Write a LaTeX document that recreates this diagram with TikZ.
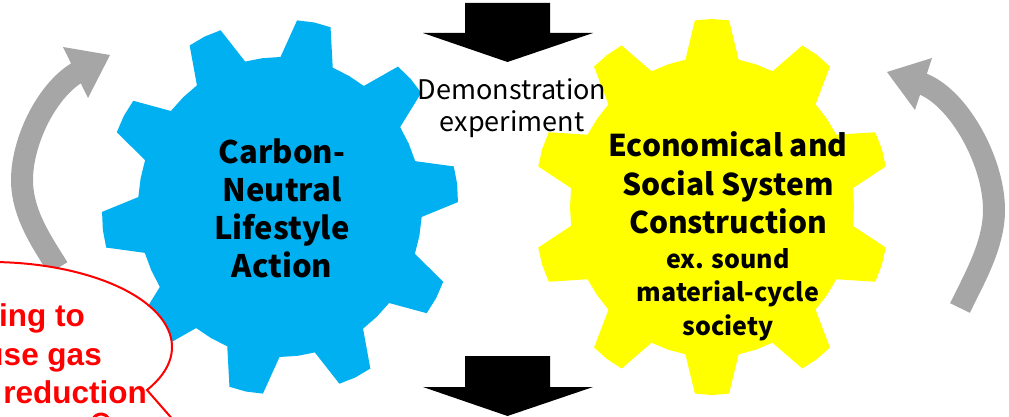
\documentclass[tikz,border=0pt]{standalone}
\usepackage{fontspec}
\setmainfont{Noto Sans CJK JP}
\newfontfamily\redfont{Liberation Sans}
\definecolor{gblue}{HTML}{00B0F0}
\definecolor{gyellow}{HTML}{FFFF00}
\definecolor{ggray}{HTML}{A6A6A6}
\definecolor{gred}{HTML}{FF0000}
\newcommand{\drawgear}[3]{%
  \fill[#1, shift={#2}] ({#3-10.8}:142 and 150)
    \foreach \k in {0,...,9}{
      -- ({#3+36*\k-5.5}:178 and 187.5)
      -- ({#3+36*\k}:178.5 and 188)
      -- ({#3+36*\k+5.5}:178 and 187.5)
      -- ({#3+36*\k+10.8}:142 and 150)
      -- ({#3+36*\k+18}:142 and 150)
      -- ({#3+36*\k+25.2}:142 and 150)
    } -- cycle;}
\tikzset{
  gbig/.style={font=\bfseries\fontsize{31}{37}\selectfont, inner sep=0pt, anchor=base},
  ybig/.style={font=\bfseries\fontsize{30}{36}\selectfont, inner sep=0pt, anchor=base},
  ysmall/.style={font=\bfseries\fontsize{25}{30}\selectfont, inner sep=0pt, anchor=base},
  demo/.style={font=\fontsize{27}{30}\selectfont, inner sep=0pt, anchor=base},
  rtext/.style={font=\redfont\bfseries\fontsize{31.5}{36}\selectfont, text=gred, inner sep=0pt, anchor=base east},
  band/.style={draw=ggray, line width=22pt},
  blockarrow/.style={fill=black}
}
\begin{document}
\begin{tikzpicture}[x=1pt,y=-1pt]
\useasboundingbox (0,0) rectangle (1009,417);
\clip (0,0) rectangle (1009,417);
% gears
\drawgear{gblue}{(280,207)}{-7}
\drawgear{gyellow}{(712,207)}{-90}
% gray circular arrows
\draw[band] (58,268) .. controls (44,245) and (22,215) .. (22,180)
  .. controls (22,140) and (48,88) .. (80,71);
\fill[ggray] (63,47) -- (110,55) -- (88,98) -- cycle;
\draw[band] (960,308) .. controls (974,279) and (994,245) .. (994,210)
  .. controls (994,160) and (957,95) .. (920,83);
\fill[ggray] (932,58) -- (887,72) -- (915,110) -- cycle;
% black block arrows
\fill[blockarrow] (465,3) -- (550,3) -- (550,33) -- (593,33) -- (507.5,62) -- (423,33) -- (465,33) -- cycle;
\fill[blockarrow] (465,356) -- (550,356) -- (550,387) -- (593,387) -- (507.5,416) -- (423,387) -- (465,387) -- cycle;
% gear texts
\node[gbig] (c1) at (282,163) {Carbon-};
\node[gbig] (c2) at (282,201.5) {Neutral};
\node[gbig] (c3) at (282,239.5) {Lifestyle};
\node[gbig] (c4) at (282,277.5) {Action};
\node[ybig] (e1) at (728,156.7) {Economical and};
\node[ybig] (e2) at (728,195) {Social System};
\node[ybig] (e3) at (728,233) {Construction};
\node[ysmall] (e4) at (728,268) {ex. sound};
\node[ysmall] (e5) at (728,301.7) {material-cycle};
\node[ysmall] (e6) at (728,335) {society};
\node[demo] (d1) at (512,100) {Demonstration};
\node[demo] (d2) at (512,131.7) {experiment};
% red callout
\draw[gred, line width=2pt, fill=white] (-10,347) ++(30.4:182 and 85)
  arc[start angle=30.4, end angle=-300, x radius=182, y radius=85] -- (210,462) -- cycle;
\draw[gred, line width=3pt] (101,423) ++(-150:9) arc[start angle=-150, end angle=-30, radius=9];
\node[rtext] (r1) at (85,326.5) {ting to};
\node[rtext] (r2) at (102,365) {use gas};
\node[rtext] (r3) at (147,403) {reduction};
\end{tikzpicture}
\end{document}
